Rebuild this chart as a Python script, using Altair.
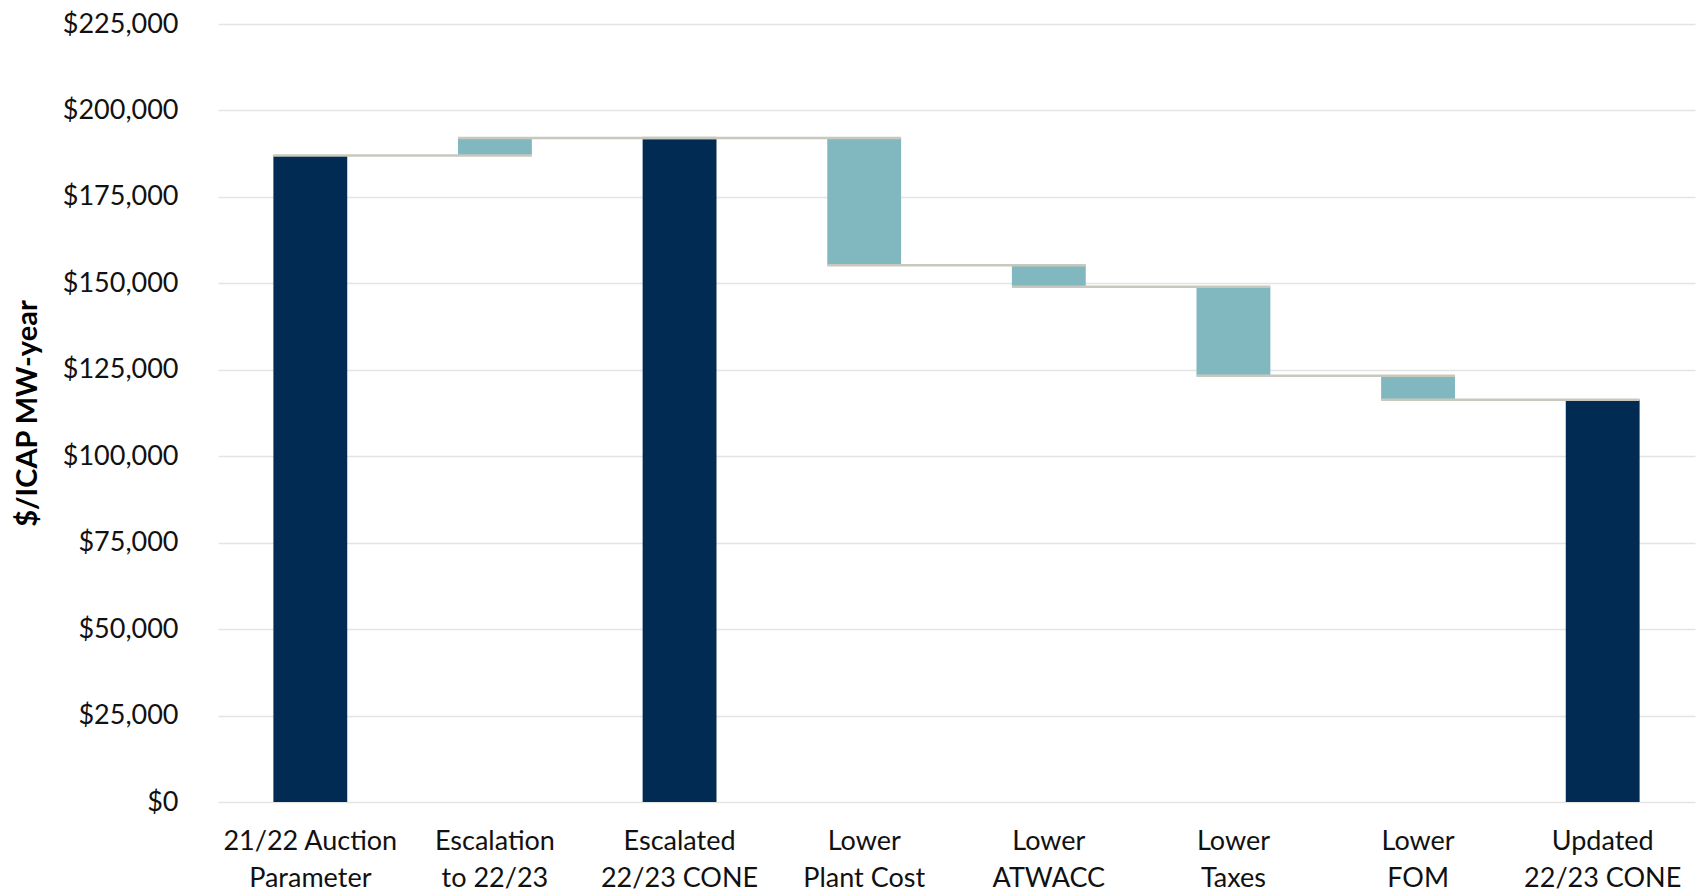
import altair as alt
import pandas as pd

categories = [
    "21/22 Auction\nParameter",
    "Escalation\nto 22/23",
    "Escalated\n22/23 CONE",
    "Lower\nPlant Cost",
    "Lower\nATWACC",
    "Lower\nTaxes",
    "Lower\nFOM",
    "Updated\n22/23 CONE",
]
starts = [0, 187000, 0, 192000, 155200, 149000, 123300, 0]
ends = [187000, 192000, 192000, 155200, 149000, 123300, 116300, 116300]
kinds = ["total", "change", "total", "change", "change", "change", "change", "total"]

NAVY = "#022B53"
TEAL = "#81B8C0"
CONNECT = "#C8C8BE"
GRID = "#E4E4E4"
FONT = "Lato"

W, H = 1477, 778
half_bar = W / len(categories) * 0.4 / 2

bars_df = pd.DataFrame({"cat": categories, "start": starts, "end": ends, "kind": kinds})
conn_df = pd.DataFrame({
    "cat": categories[:-1],
    "next": categories[1:],
    "level": ends[:-1],
})

xscale = alt.Scale(domain=categories, paddingInner=0.6, paddingOuter=0.3)
yscale = alt.Scale(domain=[0, 225000], nice=False)

xaxis = alt.Axis(title=None, labelAngle=0, labelExpr="split(datum.label, '\\n')",
                 labelFontSize=27, labelFont=FONT, labelColor="#111111",
                 labelPadding=26, labelLineHeight=37, labelBaseline="top",
                 ticks=False, domain=False, grid=False)

bars = alt.Chart(bars_df).mark_bar().encode(
    x=alt.X("cat:N", scale=xscale, sort=categories, axis=xaxis),
    y=alt.Y("start:Q", scale=yscale,
            axis=alt.Axis(title="$/ICAP MW-year", values=list(range(0, 225001, 25000)),
                          format="$,.0f", labelFontSize=27, labelFont=FONT,
                          labelColor="#111111", labelPadding=40, ticks=False, domain=False,
                          gridColor=GRID, gridWidth=1.5,
                          titleFont=FONT, titleFontSize=29, titleFontWeight="bold",
                          titleColor="#000000", titleX=-191, titleY=H / 2,
                          titleAlign="center", titleBaseline="middle", titleAngle=-90)),
    y2="end:Q",
    color=alt.Color("kind:N", scale=alt.Scale(domain=["total", "change"], range=[NAVY, TEAL]),
                    legend=None),
)

connectors = alt.Chart(conn_df).mark_rule(
    color=CONNECT, strokeWidth=2.5, xOffset=-half_bar, x2Offset=half_bar
).encode(
    x=alt.X("cat:N", scale=xscale, sort=categories, axis=xaxis),
    x2="next:N",
    y=alt.Y("level:Q", scale=yscale),
)

chart = alt.layer(bars, connectors).properties(
    width=W, height=H,
    autosize=alt.AutoSizeParams(type="none"),
    padding={"left": 218, "top": 24, "right": 6, "bottom": 91},
).configure(background="white").configure_view(stroke=None, strokeWidth=0).configure_axisX(grid=False)

chart.save("out.html", embed_options={"renderer": "svg", "actions": False})
